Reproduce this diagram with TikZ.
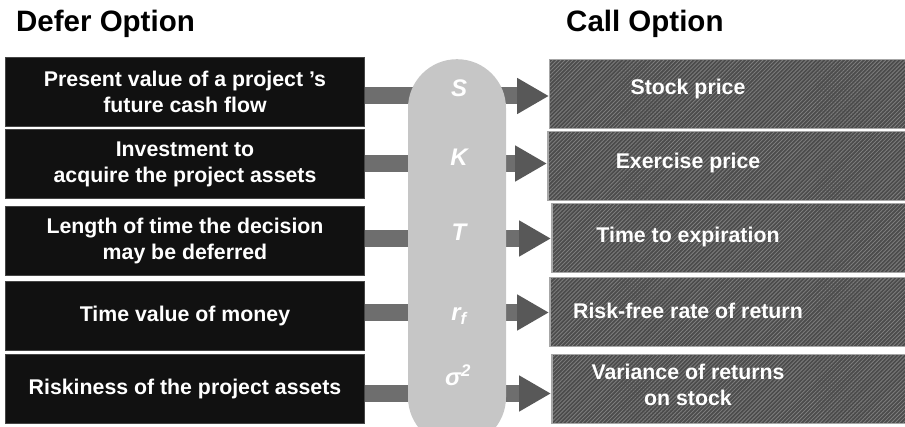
\documentclass[tikz,border=0pt]{standalone}
\usepackage{fontspec}
\setmainfont{Liberation Sans}
\usetikzlibrary{arrows.meta,patterns.meta,backgrounds}

\definecolor{inkbox}{HTML}{111111}
\definecolor{inkedge}{HTML}{454545}
\definecolor{pillgray}{HTML}{C6C6C6}
\definecolor{bargray}{HTML}{6E6E6E}
\definecolor{headgray}{HTML}{585858}
\definecolor{callfill}{HTML}{4C4C4C}
\definecolor{hatchgray}{HTML}{7E7E7E}
\definecolor{calledge}{HTML}{A6A6A6}

\begin{document}
\begin{tikzpicture}[x=1pt,y=-1pt,
  title/.style={font=\fontsize{29.5}{34}\selectfont\bfseries, inner sep=0pt, anchor=base west},
  deferbox/.style={draw=inkedge, line width=1pt, fill=inkbox, text=white,
    font=\fontsize{21.3}{25.8}\selectfont\bfseries, align=center,
    minimum width=359pt, minimum height=69.5pt, inner sep=0pt, anchor=north west},
  callbox/.style={draw=calledge, line width=1.5pt, preaction={fill=callfill},
    pattern={Lines[angle=45,distance=2.8pt,line width=0.8pt]}, pattern color=hatchgray,
    minimum width=375pt, minimum height=69pt, inner sep=0pt, anchor=north west},
  calltext/.style={text=white, font=\fontsize{21.3}{25.8}\selectfont\bfseries, align=center, inner sep=0pt},
  pill/.style={fill=pillgray, rounded corners=49pt, minimum width=98pt, minimum height=387pt,
    inner sep=0pt, anchor=north},
  sym/.style={text=white, font=\fontsize{24}{28}\selectfont\bfseries\itshape, inner sep=0pt, anchor=base},
  conn/.style={draw=bargray, line width=17pt,
    -{Triangle[length=32pt,width=34pt,color=headgray]}},
]
\useasboundingbox (0,0) rectangle (905,427);
\clip (0,0) rectangle (905,427);

% column headings
\node[title] (hdefer) at (16,32) {Defer Option};
\node[title] (hcall) at (566,32) {Call Option};

% project characteristics
\node[deferbox] (L1) at (5,57)  {Present value of a project ’s\\future cash flow};
\node[deferbox] (L2) at (5,129) {Investment to\\acquire the project assets};
\node[deferbox] (L3) at (5,206) {Length of time the decision\\may be deferred};
\node[deferbox] (L4) at (5,281) {Time value of money};
\node[deferbox] (L5) at (5,354) {Riskiness of the project assets};

% option inputs
\node[callbox] (R1) at (549,59)  {};
\node[callbox] (R2) at (547,131) {};
\node[callbox] (R3) at (551,203) {};
\node[callbox] (R4) at (549,277) {};
\node[callbox] (R5) at (551,354) {};
\node[calltext] (T1) at (688,89)  {Stock price};
\node[calltext] (T2) at (688,163) {Exercise price};
\node[calltext] (T3) at (688,237) {Time to expiration};
\node[calltext] (T4) at (688,311) {Risk-free rate of return};
\node[calltext] (T5) at (688,385) {Variance of returns\\on stock};

% central column of model variables
\node[pill] (P) at (457,59) {};
\node[sym] (sS) at (459,97)  {S};
\node[sym] (sK) at (459,166) {K};
\node[sym] (sT) at (459,241) {T};
\node[sym] (sr) at (459,321) {r\textsubscript{f}};
\node[sym] (ss) at (458,386) {σ\textsuperscript{2}};

% row levels of the connectors
\coordinate (A1) at (457,96);
\coordinate (A2) at (457,163.5);
\coordinate (A3) at (457,238.5);
\coordinate (A4) at (457,312.5);
\coordinate (A5) at (457,393.5);

\begin{scope}[on background layer]
  \draw[conn] (L1.east |- A1) -- (R1.west |- A1);
  \draw[conn] (L2.east |- A2) -- (R2.west |- A2);
  \draw[conn] (L3.east |- A3) -- (R3.west |- A3);
  \draw[conn] (L4.east |- A4) -- (R4.west |- A4);
  \draw[conn] (L5.east |- A5) -- (R5.west |- A5);
\end{scope}
\end{tikzpicture}
\end{document}
